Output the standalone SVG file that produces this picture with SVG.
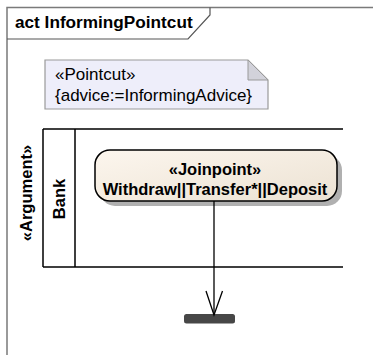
<svg xmlns="http://www.w3.org/2000/svg" width="373" height="355" viewBox="0 0 373 355">
  <style>
    .frame { fill: none; stroke: #7a7a7a; stroke-width: 1.5; }
    .tab { fill: none; stroke: #555; stroke-width: 1.2; }
    .lane { fill: none; stroke: #000; stroke-width: 1.5; }
    .title { font-family: "Liberation Sans", Arial, sans-serif; font-weight: bold; font-size: 17.2px; fill: #000; }
    .note-text { font-family: "Liberation Sans", Arial, sans-serif; font-size: 17px; fill: #000; }
    .bold { font-family: "Liberation Sans", Arial, sans-serif; font-weight: bold; font-size: 16.5px; fill: #000; }
    .edge { fill: none; stroke: #000; stroke-width: 1.3; }
  </style>
  <defs>
    <linearGradient id="actionFill" x1="0" y1="0" x2="1" y2="1">
      <stop offset="0" stop-color="#FCF6EE"/>
      <stop offset="1" stop-color="#ECE2D3"/>
    </linearGradient>
  </defs>

  <rect width="373" height="355" fill="#fff"/>

  <!-- diagram frame with name tab -->
  <g id="frame">
    <path class="frame" d="M7,380 V7.5 H390"/>
    <path class="tab" d="M7,39 H188 L210,15 V7.5"/>
    <text class="title" x="15" y="28">act InformingPointcut</text>
  </g>

  <!-- pointcut note -->
  <g id="note">
    <path d="M45,60 H248 L268,80 V109 H45 Z" fill="#EEEEFA" stroke="#9a9a9a" stroke-width="1.2"/>
    <path d="M248,60 V80 H268 Z" fill="#D2D2DA" stroke="#9a9a9a" stroke-width="1"/>
    <text class="note-text" x="55" y="80">«Pointcut»</text>
    <text class="note-text" x="55" y="101">{advice:=InformingAdvice}</text>
  </g>

  <!-- partitions -->
  <g id="partition-argument">
    <path class="lane" d="M43,129 H343 M43,267 H343 M43,129 V267 M75,129 V267"/>
    <text class="bold" font-size="14.5" transform="translate(32,193) rotate(-90)" text-anchor="middle">«Argument»</text>
  </g>
  <g id="partition-bank">
    <text class="bold" font-size="15.5" transform="translate(65,199) rotate(-90)" text-anchor="middle">Bank</text>
  </g>

  <!-- joinpoint action -->
  <g id="joinpoint">
    <rect x="100" y="155" width="242" height="51" rx="15" fill="#B0B0B0"/>
    <rect x="95" y="150" width="242" height="51" rx="15" fill="url(#actionFill)" stroke="#000" stroke-width="1.5"/>
    <text class="bold" font-size="16" x="215" y="175" text-anchor="middle">«Joinpoint»</text>
    <text class="bold" x="215" y="195" text-anchor="middle">Withdraw||Transfer*||Deposit</text>
  </g>

  <!-- synchronisation bar -->
  <g id="sync-bar">
    <rect x="184" y="314" width="51" height="9.5" rx="2.5" fill="#474747"/>
  </g>

  <!-- control flow -->
  <g id="connectors">
    <path class="edge" d="M214,201 V315"/>
    <path class="edge" d="M206,291 L214,315 L222.5,291"/>
  </g>
</svg>
